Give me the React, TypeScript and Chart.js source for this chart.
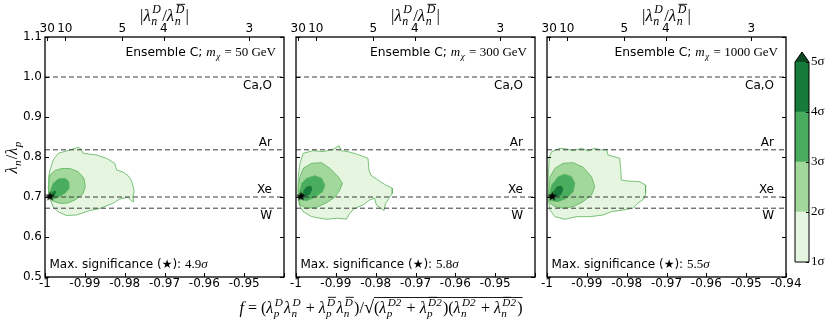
import React, { useEffect, useRef } from 'react';
import { Chart, registerables } from 'chart.js';
Chart.register(...registerables);

const W = 830;
const H = 323;

// ---------- axes ----------
const xMin = -1;
const xMax = -0.94;
const yMin = 0.5;
const yMax = 1.1;
const xTickValues = [-1, -0.99, -0.98, -0.97, -0.96, -0.95, -0.94];
const yTickValues = [0.5, 0.6, 0.7, 0.8, 0.9, 1.0, 1.1];
const topTickRatios = [30, 10, 5, 4, 3];

// ---------- reference lines ----------
const refLineValues = [1.0, 0.818, 0.7, 0.672];
const refLineLabels = ['Ca,O', 'Ar', 'Xe', 'W'];

// ---------- panels ----------
const masses = [50, 300, 1000];
const maxSignificance = [4.9, 5.8, 5.5];
const starX = [-0.99875, -0.99875, -0.99868];
const starY = [0.7025, 0.7025, 0.7025];
const sigmaLevels = [1, 2, 3, 4, 5];

type P = [number, number];

// panel 1 (m = 50 GeV)
const p1Level1: P[] = [[-0.99875,0.7675],[-0.99793,0.7925],[-0.99668,0.8093],[-0.99375,0.8175],[-0.99168,0.8243],[-0.99108,0.8213],[-0.99043,0.8093],[-0.98708,0.805],[-0.98458,0.7968],[-0.9825,0.7843],[-0.982,0.7675],[-0.98043,0.7625],[-0.97918,0.7538],[-0.97825,0.74],[-0.97763,0.7175],[-0.97793,0.6993],[-0.97768,0.6883],[-0.97838,0.6908],[-0.97918,0.6993],[-0.98125,0.695],[-0.98293,0.6843],[-0.98625,0.6713],[-0.98875,0.6663],[-0.99208,0.655],[-0.99458,0.6538],[-0.99668,0.6625],[-0.99793,0.675],[-0.99893,0.7],[-0.99918,0.7258],[-0.99905,0.7525]];
const p1Level2: P[] = [[-0.99875,0.755],[-0.9975,0.7663],[-0.99575,0.7713],[-0.99375,0.7713],[-0.99168,0.7633],[-0.99025,0.7475],[-0.98988,0.7258],[-0.9905,0.7075],[-0.99225,0.6938],[-0.99425,0.685],[-0.996,0.6838],[-0.99775,0.6888],[-0.99888,0.6963],[-0.99913,0.7175],[-0.99905,0.7375]];
const p1Level3: P[] = [[-0.99793,0.7343],[-0.99668,0.745],[-0.995,0.7468],[-0.994,0.7383],[-0.99393,0.7218],[-0.995,0.7093],[-0.99668,0.6993],[-0.99808,0.6943],[-0.99875,0.6993],[-0.99875,0.7133]];
const p1Level4: P[] = [[-0.99833,0.7133],[-0.9975,0.7175],[-0.997,0.7125],[-0.99725,0.7075],[-0.99793,0.6993],[-0.99858,0.6993]];

// panel 2 (m = 300 GeV)
const p2Level1: P[] = [[-0.999,0.7843],[-0.99818,0.8093],[-0.99568,0.8158],[-0.99318,0.8133],[-0.99068,0.8193],[-0.98918,0.8283],[-0.98858,0.8158],[-0.98693,0.8133],[-0.98483,0.8075],[-0.98193,0.7968],[-0.98168,0.7675],[-0.98125,0.755],[-0.97943,0.7425],[-0.9775,0.73],[-0.97583,0.7218],[-0.97583,0.7093],[-0.9765,0.6993],[-0.9775,0.6843],[-0.97793,0.6658],[-0.97818,0.6683],[-0.97983,0.68],[-0.98025,0.6968],[-0.9815,0.6925],[-0.98318,0.68],[-0.98525,0.6718],[-0.9865,0.6593],[-0.98733,0.645],[-0.98983,0.6468],[-0.99233,0.6443],[-0.99608,0.6508],[-0.99818,0.6633],[-0.99918,0.68],[-0.9995,0.7093],[-0.99943,0.7508]];
const p2Level2: P[] = [[-0.999,0.7508],[-0.99818,0.7718],[-0.99608,0.7843],[-0.99358,0.7858],[-0.9915,0.7718],[-0.98943,0.7508],[-0.98833,0.7343],[-0.989,0.7175],[-0.99025,0.6993],[-0.99233,0.6858],[-0.99483,0.6743],[-0.99733,0.6718],[-0.999,0.68],[-0.99943,0.7008],[-0.99943,0.7258]];
const p2Level3: P[] = [[-0.99858,0.7343],[-0.99733,0.7468],[-0.99525,0.7533],[-0.99358,0.7468],[-0.99275,0.73],[-0.99333,0.7133],[-0.99525,0.6993],[-0.99733,0.6908],[-0.99883,0.6943],[-0.99918,0.7093]];
const p2Level4: P[] = [[-0.99818,0.7175],[-0.99733,0.7275],[-0.99608,0.73],[-0.99583,0.7175],[-0.9965,0.705],[-0.99775,0.6993],[-0.99858,0.7025]];
const p2Level5: P[] = [[-0.99888,0.7075],[-0.99825,0.7113],[-0.99775,0.705],[-0.99825,0.6988],[-0.99888,0.7]];

// panel 3 (m = 1000 GeV)
const p3Level1: P[] = [[-0.99943,0.8008],[-0.99883,0.8133],[-0.99675,0.8218],[-0.99508,0.82],[-0.99343,0.8158],[-0.99133,0.8218],[-0.98968,0.815],[-0.988,0.8218],[-0.98633,0.8175],[-0.98508,0.8193],[-0.98468,0.805],[-0.98175,0.7968],[-0.9815,0.7718],[-0.98133,0.7425],[-0.97968,0.74],[-0.97675,0.7383],[-0.97525,0.73],[-0.97525,0.7093],[-0.9755,0.6968],[-0.97718,0.6843],[-0.97843,0.6718],[-0.98093,0.6675],[-0.98383,0.6633],[-0.98593,0.655],[-0.98925,0.6508],[-0.99258,0.6508],[-0.9955,0.6443],[-0.998,0.6508],[-0.99925,0.6675],[-0.99968,0.6925],[-0.99968,0.7508]];
const p3Level2: P[] = [[-0.99925,0.7508],[-0.998,0.7718],[-0.99593,0.7843],[-0.99343,0.7858],[-0.99093,0.7743],[-0.98883,0.7508],[-0.988,0.7258],[-0.98883,0.705],[-0.99093,0.6883],[-0.99343,0.6758],[-0.99593,0.6718],[-0.998,0.6758],[-0.99925,0.6843],[-0.99958,0.7093]];
const p3Level3: P[] = [[-0.99883,0.73],[-0.99718,0.7508],[-0.9955,0.7568],[-0.99383,0.7508],[-0.993,0.7343],[-0.99343,0.7133],[-0.99508,0.6968],[-0.99718,0.6883],[-0.99883,0.6908],[-0.99943,0.705]];
const p3Level4: P[] = [[-0.99858,0.7133],[-0.99758,0.7275],[-0.99633,0.73],[-0.99575,0.7193],[-0.99633,0.705],[-0.99758,0.6993],[-0.99858,0.6993]];
const p3Level5: P[] = [[-0.99913,0.7063],[-0.9985,0.71],[-0.998,0.7038],[-0.9985,0.6975],[-0.99913,0.6988]];

const panelContours: P[][][] = [
  [p1Level1, p1Level2, p1Level3, p1Level4],
  [p2Level1, p2Level2, p2Level3, p2Level4, p2Level5],
  [p3Level1, p3Level2, p3Level3, p3Level4, p3Level5],
];

// ---------- styles / layout ----------
const SANS = '"DejaVu Sans", sans-serif';
const SERIF = '"Liberation Serif", "DejaVu Serif", serif';
const levelColors = ['#e5f5e0', '#a3d89d', '#48ad5f', '#167a3b', '#0a4a21'];
const contourLine = '#5ab35a';
const panelLefts = [45, 296, 547];
const panelWidth = 239;
const plotTop = 37;
const plotBottom = 277;
const refLabelOffsets = [9, -7, -7, 8];
const cbLeft = 795;
const cbRight = 809;
const cbTop = 62;
const cbBottom = 262;
const cbTip = 52;

Chart.defaults.font.family = SANS;
Chart.defaults.color = '#000';

type Tok = { t: string; f?: 'i' | 'r' | 's'; sub?: string; sup?: string; bar?: number; k?: number; v?: 1 | 2 };

function fontFor(f: string, px: number) {
  if (f === 's') return `${px}px ${SANS}`;
  if (f === 'r') return `${px}px ${SERIF}`;
  return `italic ${px}px ${SERIF}`;
}

function mathRun(ctx: CanvasRenderingContext2D, toks: Tok[], size: number, x0: number, base: number, draw: boolean) {
  let x = x0;
  let vx = x0;
  ctx.textBaseline = 'alphabetic';
  ctx.textAlign = 'left';
  for (const tk of toks) {
    const px = size * (tk.k ?? 1);
    if (tk.v === 1) vx = x;
    ctx.font = fontFor(tk.f ?? 'i', px);
    const w = ctx.measureText(tk.t).width;
    if (draw) ctx.fillText(tk.t, x, base);
    x += w;
    if (tk.sub || tk.sup) {
      const sp = px * 0.7;
      ctx.font = fontFor('i', sp);
      let sw = 0;
      if (tk.sub) {
        const ws = ctx.measureText(tk.sub).width;
        if (draw) ctx.fillText(tk.sub, x + 0.5, base + px * 0.25);
        sw = Math.max(sw, ws + 0.5);
      }
      if (tk.sup) {
        const ws = ctx.measureText(tk.sup).width;
        const sx = x + 1.5;
        const sy = base - px * 0.45;
        if (draw) {
          ctx.fillText(tk.sup, sx, sy);
          if (tk.bar) {
            const bw = ctx.measureText(tk.sup.slice(0, tk.bar)).width;
            ctx.fillRect(sx + 0.8, sy - sp * 0.8, bw, 0.9);
          }
        }
        sw = Math.max(sw, ws + 1.5);
      }
      x += sw + 1.2;
    }
    if (tk.v === 2 && draw) {
      ctx.fillRect(vx, base - size * 1.0, x - vx, 0.9);
    }
  }
  return x - x0;
}

function drawMath(ctx: CanvasRenderingContext2D, toks: Tok[], size: number, x: number, base: number, align: 'left' | 'center' | 'right') {
  const w = mathRun(ctx, toks, size, 0, base, false);
  const x0 = align === 'left' ? x : align === 'center' ? x - w / 2 : x - w;
  mathRun(ctx, toks, size, x0, base, true);
  return w;
}

const lam = (sub: string, sup: string, bar?: number): Tok => ({ t: 'λ', sub, sup, bar });

const topTitle: Tok[] = [{ t: '|', f: 'r' }, lam('n', 'D'), { t: '/', f: 'r' }, lam('n', 'D', 1), { t: '|', f: 'r' }];
const yTitle: Tok[] = [{ t: 'λ', sub: 'n' }, { t: '/', f: 'r' }, { t: 'λ', sub: 'p' }];
const formula: Tok[] = [
  { t: 'f' }, { t: ' = ', f: 'r' }, { t: '(', f: 'r' }, lam('p', 'D'), lam('n', 'D'), { t: ' + ', f: 'r' },
  lam('p', 'D', 1), lam('n', 'D', 1), { t: ')/', f: 'r' }, { t: '√', f: 'r', k: 1.15 },
  { t: '(', f: 'r', v: 1 }, lam('p', 'D2'), { t: ' + ', f: 'r' }, lam('p', 'D2', 1), { t: ')(', f: 'r' },
  lam('n', 'D2'), { t: ' + ', f: 'r' }, lam('n', 'D2', 1), { t: ')', f: 'r', v: 2 },
];

function makeStar(): HTMLCanvasElement {
  const c = document.createElement('canvas');
  c.width = 11;
  c.height = 11;
  const g = c.getContext('2d')!;
  g.beginPath();
  for (let k = 0; k < 10; k++) {
    const r = k % 2 === 0 ? 5 : 2.1;
    const a = -Math.PI / 2 + (k * Math.PI) / 5;
    const x = 5.5 + r * Math.cos(a);
    const y = 5.9 + r * Math.sin(a);
    if (k === 0) g.moveTo(x, y);
    else g.lineTo(x, y);
  }
  g.closePath();
  g.fillStyle = '#000';
  g.fill();
  return c;
}

function panelConfig(i: number, star: HTMLCanvasElement): any {
  const L = panelLefts[i];
  const R = L + panelWidth;
  const datasets: any[] = [];
  panelContours[i].forEach((poly, k) => {
    datasets.push({
      data: [...poly, poly[0]].map(([x, y]) => ({ x, y })),
      fill: 'shape',
      backgroundColor: levelColors[k],
      borderColor: contourLine,
      borderWidth: 0.8,
      pointRadius: 0,
      tension: 0,
      order: 10 - k,
    });
  });
  refLineValues.forEach((v) => {
    datasets.push({
      data: [{ x: xMin, y: v }, { x: xMax, y: v }],
      fill: false,
      borderColor: '#3a3a3a',
      borderWidth: 1,
      borderDash: [5, 3],
      pointRadius: 0,
      order: 2,
    });
  });
  datasets.push({
    data: [{ x: starX[i], y: starY[i] }],
    showLine: false,
    pointStyle: star,
    pointRadius: 5,
    order: 0,
  });

  const overlay = {
    id: 'overlay' + i,
    afterDatasetsDraw(chart: any) {
      const { ctx, chartArea: a, scales } = chart;
      ctx.save();
      ctx.strokeStyle = '#000';
      ctx.lineWidth = 1;
      const tl = 4;
      ctx.beginPath();
      for (const t of scales.x.ticks) {
        const px = Math.round(scales.x.getPixelForValue(t.value)) + 0.5;
        ctx.moveTo(px, a.bottom);
        ctx.lineTo(px, a.bottom - tl);
      }
      for (const t of scales.x2.ticks) {
        const px = Math.round(scales.x2.getPixelForValue(t.value)) + 0.5;
        ctx.moveTo(px, a.top);
        ctx.lineTo(px, a.top + tl);
      }
      for (const t of scales.y.ticks) {
        const py = Math.round(scales.y.getPixelForValue(t.value)) + 0.5;
        ctx.moveTo(a.left, py);
        ctx.lineTo(a.left + tl, py);
        ctx.moveTo(a.right, py);
        ctx.lineTo(a.right - tl, py);
      }
      ctx.stroke();
      ctx.lineWidth = 1.3;
      ctx.strokeRect(a.left, a.top, a.right - a.left, a.bottom - a.top);
      ctx.restore();
    },
    afterDraw(chart: any) {
      const { ctx, chartArea: a, scales } = chart;
      ctx.save();
      ctx.fillStyle = '#000';
      // reference line labels
      ctx.font = `12px ${SANS}`;
      ctx.textAlign = 'right';
      ctx.textBaseline = 'middle';
      refLineValues.forEach((v, k) => {
        const py = scales.y.getPixelForValue(v);
        ctx.fillText(refLineLabels[k], a.right - 12, py + refLabelOffsets[k]);
      });
      // ensemble label
      drawMath(
        ctx,
        [{ t: 'Ensemble C; ', f: 's', k: 12.3 / 13 }, { t: 'm', sub: 'χ' }, { t: ' = ', f: 'r' }, { t: `${masses[i]} GeV`, f: 'r' }],
        13, a.right - 8, 56, 'right'
      );
      // max significance
      drawMath(
        ctx,
        [{ t: 'Max. significance (★): ', f: 's', k: 12 / 13 }, { t: maxSignificance[i].toFixed(1), f: 'r' }, { t: 'σ' }],
        13, a.left + 4.5, 268, 'left'
      );
      // top axis title
      drawMath(ctx, topTitle, 17, (a.left + a.right) / 2, 21, 'center');
      if (i === 0) {
        ctx.save();
        ctx.translate(17, (a.top + a.bottom) / 2);
        ctx.rotate(-Math.PI / 2);
        drawMath(ctx, yTitle, 16, 0, 0, 'center');
        ctx.restore();
      }
      if (i === 1) {
        drawMath(ctx, formula, 16, 381, 313, 'center');
      }
      ctx.restore();
    },
  };

  const tickFont = { family: SANS, size: 12 };
  return {
    type: 'line',
    data: { datasets },
    options: {
      responsive: false,
      devicePixelRatio: 1,
      animation: false,
      events: [],
      layout: { padding: { left: i === 0 ? 0 : L, right: W - R, top: 0, bottom: 0 } },
      plugins: { legend: { display: false }, tooltip: { enabled: false } },
      scales: {
        x: {
          type: 'linear',
          position: 'bottom',
          min: xMin,
          max: xMax,
          grid: { display: false, drawTicks: false },
          border: { display: false },
          afterBuildTicks: (s: any) => { s.ticks = xTickValues.map((v) => ({ value: v })); },
          afterFit: (s: any) => { s.height = H - plotBottom; },
          ticks: {
            autoSkip: false,
            maxRotation: 0,
            minRotation: 0,
            padding: 0,
            color: '#000',
            font: tickFont,
            callback: (v: number, idx: number) => (i < 2 && idx === xTickValues.length - 1 ? '' : String(+v.toFixed(2))),
          },
        },
        x2: {
          type: 'linear',
          position: 'top',
          min: xMin,
          max: xMax,
          grid: { display: false, drawTicks: false },
          border: { display: false },
          afterBuildTicks: (s: any) => { s.ticks = topTickRatios.map((r) => ({ value: -r / Math.sqrt(r * r + 1) })); },
          afterFit: (s: any) => { s.height = plotTop; },
          ticks: {
            autoSkip: false,
            maxRotation: 0,
            minRotation: 0,
            padding: 1,
            color: '#000',
            font: tickFont,
            callback: (_v: number, idx: number) => String(topTickRatios[idx]),
          },
        },
        y: {
          type: 'linear',
          position: 'left',
          min: yMin,
          max: yMax,
          grid: { display: false, drawTicks: false },
          border: { display: false },
          afterBuildTicks: (s: any) => { s.ticks = yTickValues.map((v) => ({ value: v })); },
          afterFit: (s: any) => { s.width = i === 0 ? L : 0; },
          ticks: {
            display: i === 0,
            padding: 3,
            color: '#000',
            font: tickFont,
            callback: (v: number) => v.toFixed(1),
          },
        },
      },
    },
    plugins: [overlay],
  };
}

function colorbarConfig(): any {
  const bands = sigmaLevels.slice(0, -1).map((lo, k) => [lo, sigmaLevels[k + 1]]);
  const cbPlugin = {
    id: 'cbFrame',
    afterDatasetsDraw(chart: any) {
      const { ctx, chartArea: a, scales } = chart;
      ctx.save();
      ctx.fillStyle = levelColors[4];
      ctx.beginPath();
      ctx.moveTo(a.left, a.top);
      ctx.lineTo((a.left + a.right) / 2, cbTip);
      ctx.lineTo(a.right, a.top);
      ctx.closePath();
      ctx.fill();
      ctx.strokeStyle = '#000';
      ctx.lineWidth = 1;
      ctx.beginPath();
      ctx.moveTo(a.left, a.bottom);
      ctx.lineTo(a.left, a.top);
      ctx.lineTo((a.left + a.right) / 2, cbTip);
      ctx.lineTo(a.right, a.top);
      ctx.lineTo(a.right, a.bottom);
      ctx.closePath();
      ctx.stroke();
      ctx.beginPath();
      for (const t of scales.y.ticks) {
        const py = Math.round(scales.y.getPixelForValue(t.value)) + 0.5;
        ctx.moveTo(a.right, py);
        ctx.lineTo(a.right - 3, py);
      }
      ctx.stroke();
      ctx.restore();
    },
  };
  return {
    type: 'bar',
    data: {
      labels: ['σ'],
      datasets: bands.map((b, k) => ({
        data: [b],
        backgroundColor: levelColors[k],
        borderWidth: 0,
        barPercentage: 1,
        categoryPercentage: 1,
        grouped: false,
      })),
    },
    options: {
      responsive: false,
      devicePixelRatio: 1,
      animation: false,
      events: [],
      layout: { padding: { left: cbLeft, right: 0, top: cbTop, bottom: H - cbBottom } },
      plugins: { legend: { display: false }, tooltip: { enabled: false } },
      scales: {
        x: { display: false },
        y: {
          position: 'right',
          min: sigmaLevels[0],
          max: sigmaLevels[sigmaLevels.length - 1],
          grid: { display: false, drawTicks: false },
          border: { display: false },
          afterBuildTicks: (s: any) => { s.ticks = sigmaLevels.map((v) => ({ value: v })); },
          afterFit: (s: any) => { s.width = W - cbRight; },
          ticks: {
            padding: 2,
            color: '#000',
            font: { family: SERIF, size: 13 },
            callback: (v: number) => `${v}σ`,
          },
        },
      },
    },
    plugins: [cbPlugin],
  };
}

export default function App() {
  const r0 = useRef<HTMLCanvasElement>(null);
  const r1 = useRef<HTMLCanvasElement>(null);
  const r2 = useRef<HTMLCanvasElement>(null);
  const r3 = useRef<HTMLCanvasElement>(null);
  const refs = [r0, r1, r2, r3];

  useEffect(() => {
    const star = makeStar();
    const charts: Chart[] = [];
    for (let i = 0; i < 3; i++) charts.push(new Chart(refs[i].current!, panelConfig(i, star)));
    charts.push(new Chart(refs[3].current!, colorbarConfig()));
    return () => charts.forEach((c) => c.destroy());
  }, []);

  const st: React.CSSProperties = { position: 'absolute', left: 0, top: 0, width: W, height: H };
  return (
    <div style={{ position: 'fixed', left: 0, top: 0, width: W, height: H, background: '#fff' }}>
      {refs.map((r, i) => (
        <canvas key={i} ref={r} width={W} height={H} style={st} />
      ))}
    </div>
  );
}
